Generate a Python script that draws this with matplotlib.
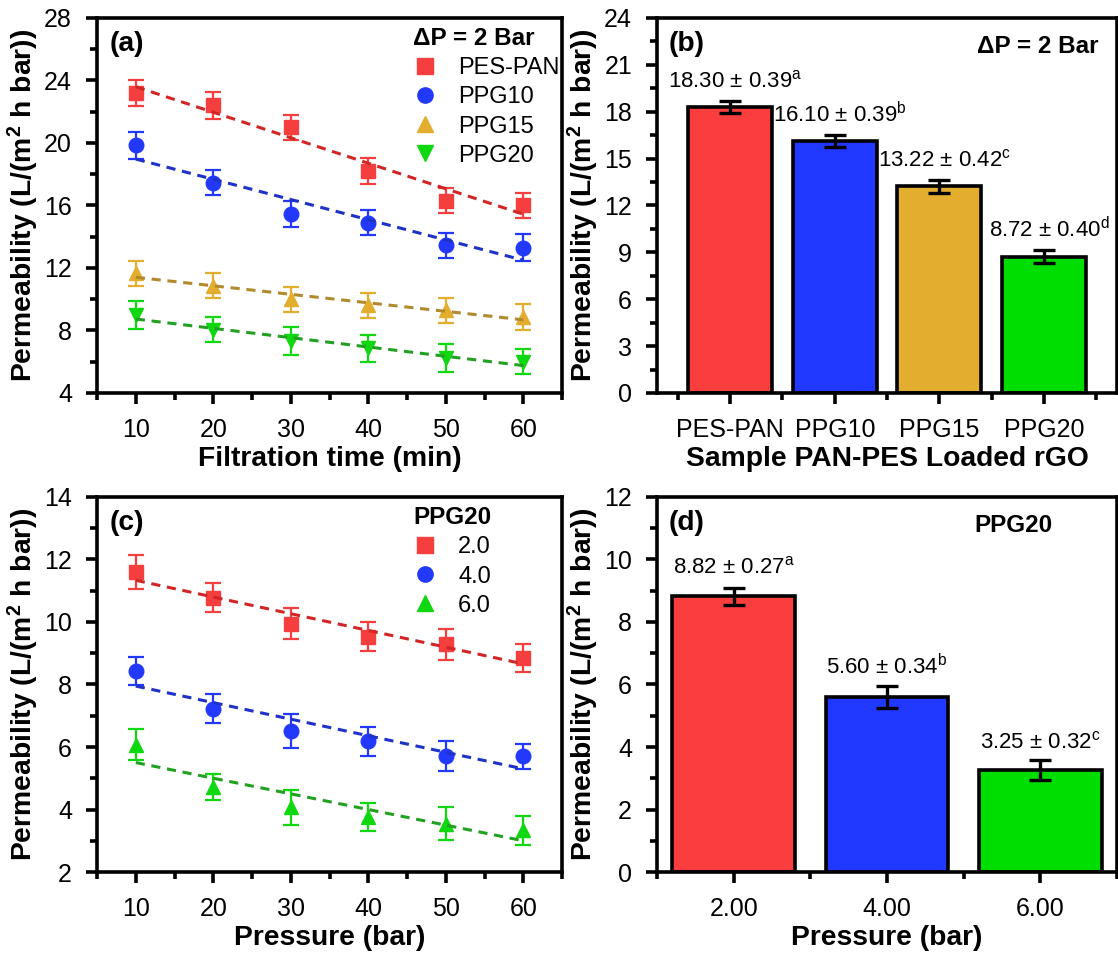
import numpy as np
import matplotlib
matplotlib.use('Agg')
import matplotlib.pyplot as plt
from matplotlib.lines import Line2D
from matplotlib.ticker import MultipleLocator

plt.rcParams['font.family'] = ['Liberation Sans', 'DejaVu Sans']
plt.rcParams['mathtext.default'] = 'regular'

# (a) permeability vs filtration time, dP = 2 bar
time_min = [10, 20, 30, 40, 50, 60]
pes_pan = [23.2, 22.4, 21.0, 18.2, 16.3, 16.0]
pes_pan_err = [0.85, 0.85, 0.8, 0.85, 0.8, 0.8]
ppg10 = [19.85, 17.45, 15.45, 14.9, 13.45, 13.3]
ppg10_err = [0.85, 0.8, 0.85, 0.8, 0.8, 0.85]
ppg15 = [11.65, 10.85, 10.0, 9.6, 9.3, 8.85]
ppg15_err = [0.8, 0.8, 0.8, 0.8, 0.8, 0.85]
ppg20 = [9.0, 8.05, 7.3, 6.85, 6.25, 6.0]
ppg20_err = [0.9, 0.8, 0.9, 0.85, 0.9, 0.8]

# (b) mean permeability per sample
samples = ['PES-PAN', 'PPG10', 'PPG15', 'PPG20']
sample_mean = [18.30, 16.10, 13.22, 8.72]
sample_err = [0.39, 0.39, 0.42, 0.40]
sample_sup = ['a', 'b', 'c', 'd']

# (c) PPG20 permeability vs pressure at three conditions
pressure = [10, 20, 30, 40, 50, 60]
p20 = [11.6, 10.78, 9.95, 9.53, 9.28, 8.84]
p20_err = [0.55, 0.47, 0.5, 0.47, 0.5, 0.45]
p40 = [8.43, 7.22, 6.52, 6.18, 5.7, 5.7]
p40_err = [0.45, 0.46, 0.55, 0.47, 0.48, 0.4]
p60 = [6.07, 4.72, 4.07, 3.76, 3.55, 3.33]
p60_err = [0.5, 0.43, 0.56, 0.45, 0.52, 0.46]

# (d) PPG20 mean permeability per pressure
press_labels = ['2.00', '4.00', '6.00']
press_mean = [8.82, 5.60, 3.25]
press_err = [0.27, 0.34, 0.32]
press_sup = ['a', 'b', 'c']

RED, BLUE, GOLD, GREEN = '#F53E3E', '#2238FA', '#E3AD2E', '#10D810'
RED_L, BLUE_L, GOLD_L, GREEN_L = '#D22626', '#1E32C8', '#B08A2C', '#22A022'
BAR_RED, BAR_BLUE, BAR_GOLD, BAR_GREEN = '#FA3E3E', '#2038FF', '#E3AE30', '#00DD00'

ylab = 'Permeability (L/(m$^2$ h bar))'
TICK_FS = 18
LAB_FS = 20.3
LEG_FS = 17
ANN_FS = 16

fig = plt.figure(figsize=(11.18, 9.55), dpi=100)
ax_a = fig.add_axes([0.0868, 0.5885, 0.416, 0.3927])
ax_b = fig.add_axes([0.5877, 0.5885, 0.4114, 0.3927])
ax_c = fig.add_axes([0.0868, 0.0869, 0.416, 0.3927])
ax_d = fig.add_axes([0.5877, 0.0869, 0.4114, 0.3927])


def style(ax):
    for s in ax.spines.values():
        s.set_linewidth(2.6)
    ax.tick_params(which='major', length=8, width=2.6, labelsize=TICK_FS, direction='out', pad=10)
    ax.tick_params(which='minor', length=5, width=2.6, direction='out')
    ax.set_ylabel(ylab, fontsize=LAB_FS, fontweight='bold', labelpad=2)


def scatter_fit(ax, x, y, err, marker, color, lcolor):
    ax.errorbar(x, y, yerr=err, fmt=marker, color=color, ms=10.5, mec=color,
                ecolor=color, elinewidth=1.6, capsize=5.5, capthick=1.6, zorder=3)
    k, b = np.polyfit(x, y, 1)
    xx = np.array([min(x), max(x)])
    ax.plot(xx, k * xx + b, '--', color=lcolor, lw=2.2, dashes=(3, 2.2), zorder=4)
    return Line2D([], [], ls='none', marker=marker, color=color, ms=11)


def legend(ax, handles, labels, title, anchor):
    leg = ax.legend(handles, labels, loc='upper left', bbox_to_anchor=anchor, frameon=False,
                    fontsize=LEG_FS, title=title,
                    title_fontproperties={'weight': 'bold', 'size': LEG_FS + 0.5},
                    handletextpad=0.9, borderaxespad=0, borderpad=0, labelspacing=0.3,
                    handlelength=1.0)
    leg._legend_box.align = 'left'


def panel_label(ax, s):
    ax.text(0.026, 0.965, s, transform=ax.transAxes, fontsize=LAB_FS, fontweight='bold', va='top')


# (a)
h = [scatter_fit(ax_a, time_min, pes_pan, pes_pan_err, 's', RED, RED_L),
     scatter_fit(ax_a, time_min, ppg10, ppg10_err, 'o', BLUE, BLUE_L),
     scatter_fit(ax_a, time_min, ppg15, ppg15_err, '^', GOLD, GOLD_L),
     scatter_fit(ax_a, time_min, ppg20, ppg20_err, 'v', GREEN, GREEN_L)]
ax_a.set_xlim(5, 65)
ax_a.set_ylim(4, 28)
ax_a.xaxis.set_major_locator(MultipleLocator(10))
ax_a.xaxis.set_minor_locator(MultipleLocator(5))
ax_a.yaxis.set_major_locator(MultipleLocator(4))
ax_a.yaxis.set_minor_locator(MultipleLocator(2))
style(ax_a)
ax_a.set_xlabel('Filtration time (min)', fontsize=LAB_FS, fontweight='bold', labelpad=3)
panel_label(ax_a, '(a)')
legend(ax_a, h, ['PES-PAN', 'PPG10', 'PPG15', 'PPG20'], 'ΔP = 2 Bar', (0.68, 0.975))

# (b)
xb = np.arange(1, len(samples) + 1)
ax_b.bar(xb, sample_mean, width=0.8, color=[BAR_RED, BAR_BLUE, BAR_GOLD, BAR_GREEN],
         edgecolor='black', linewidth=2.6, zorder=2)
ax_b.errorbar(xb, sample_mean, yerr=sample_err, fmt='none', ecolor='black',
              elinewidth=2.4, capsize=8, capthick=2.4, zorder=3)
for xi, m, e, s in zip(xb, sample_mean, sample_err, sample_sup):
    ax_b.text(xi + 0.05, m + 1.25, f'{m:.2f} ± {e:.2f}$^{{{s}}}$', ha='center', va='baseline',
              fontsize=ANN_FS)
ax_b.set_xlim(0.3, 4.7)
ax_b.set_ylim(0, 24)
ax_b.set_xticks(xb)
ax_b.set_xticklabels(samples)
ax_b.xaxis.set_minor_locator(MultipleLocator(1, offset=0.5))
ax_b.yaxis.set_major_locator(MultipleLocator(3))
ax_b.yaxis.set_minor_locator(MultipleLocator(1.5))
style(ax_b)
ax_b.set_xlabel('Sample PAN-PES Loaded rGO', fontsize=LAB_FS, fontweight='bold', labelpad=3)
panel_label(ax_b, '(b)')
ax_b.text(0.96, 0.955, 'ΔP = 2 Bar', transform=ax_b.transAxes, fontsize=LEG_FS + 0.5,
          fontweight='bold', va='top', ha='right')

# (c)
h = [scatter_fit(ax_c, pressure, p20, p20_err, 's', RED, RED_L),
     scatter_fit(ax_c, pressure, p40, p40_err, 'o', BLUE, BLUE_L),
     scatter_fit(ax_c, pressure, p60, p60_err, '^', GREEN, GREEN_L)]
ax_c.set_xlim(5, 65)
ax_c.set_ylim(2, 14)
ax_c.xaxis.set_major_locator(MultipleLocator(10))
ax_c.xaxis.set_minor_locator(MultipleLocator(5))
ax_c.yaxis.set_major_locator(MultipleLocator(2))
ax_c.yaxis.set_minor_locator(MultipleLocator(1))
style(ax_c)
ax_c.set_xlabel('Pressure (bar)', fontsize=LAB_FS, fontweight='bold', labelpad=3)
panel_label(ax_c, '(c)')
legend(ax_c, h, ['2.0', '4.0', '6.0'], 'PPG20', (0.68, 0.975))

# (d)
xd = np.arange(1, len(press_labels) + 1)
ax_d.bar(xd, press_mean, width=0.8, color=[BAR_RED, BAR_BLUE, BAR_GREEN],
         edgecolor='black', linewidth=2.6, zorder=2)
ax_d.errorbar(xd, press_mean, yerr=press_err, fmt='none', ecolor='black',
              elinewidth=2.4, capsize=8, capthick=2.4, zorder=3)
for xi, m, e, s in zip(xd, press_mean, press_err, press_sup):
    ax_d.text(xi, m + 0.72, f'{m:.2f} ± {e:.2f}$^{{{s}}}$', ha='center', va='baseline',
              fontsize=ANN_FS)
ax_d.set_xlim(0.5, 3.5)
ax_d.set_ylim(0, 12)
ax_d.set_xticks(xd)
ax_d.set_xticklabels(press_labels)
ax_d.xaxis.set_minor_locator(MultipleLocator(1, offset=0.5))
ax_d.yaxis.set_major_locator(MultipleLocator(2))
ax_d.yaxis.set_minor_locator(MultipleLocator(1))
style(ax_d)
ax_d.set_xlabel('Pressure (bar)', fontsize=LAB_FS, fontweight='bold', labelpad=3)
panel_label(ax_d, '(d)')
ax_d.text(0.775, 0.955, 'PPG20', transform=ax_d.transAxes, fontsize=LEG_FS + 0.5,
          fontweight='bold', va='top', ha='center')

fig.savefig('out.png', dpi=100)
